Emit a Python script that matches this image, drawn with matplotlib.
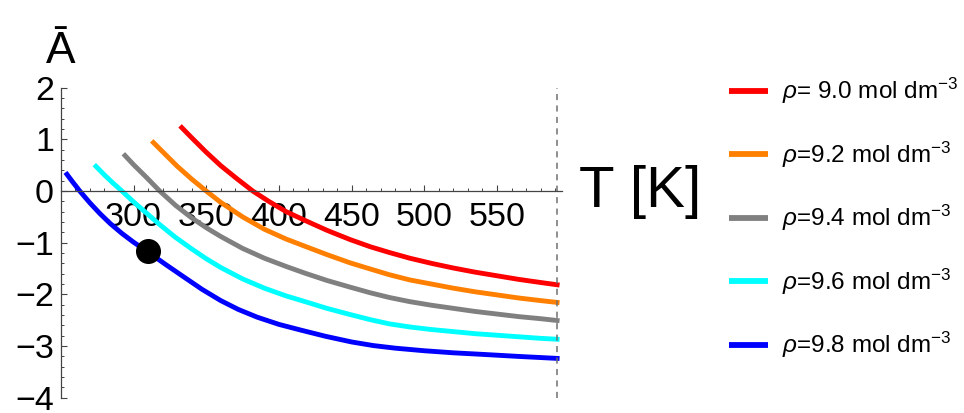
import matplotlib
matplotlib.use("Agg")
import matplotlib.pyplot as plt
from matplotlib.ticker import MultipleLocator, FixedLocator

plt.rcParams["font.family"] = ["Liberation Sans", "DejaVu Sans"]
plt.rcParams["mathtext.fontset"] = "custom"
plt.rcParams["mathtext.rm"] = "Liberation Sans"
plt.rcParams["mathtext.it"] = "Liberation Sans:italic"

# values (T in K, reduced A)
t_98 = [253.2, 258, 263, 270, 277, 284, 292, 300, 310, 322, 335, 347, 360, 372,
        385, 400, 415, 432, 450, 465, 480, 500, 520, 540, 565, 593]
a_98 = [0.36, 0.18, 0.0, -0.23, -0.44, -0.63, -0.82, -0.99, -1.18, -1.42, -1.67,
        -1.90, -2.12, -2.29, -2.44, -2.58, -2.69, -2.81, -2.92, -2.99, -3.04,
        -3.09, -3.13, -3.16, -3.20, -3.24]
t_96 = [273, 280, 286, 292, 300, 309, 318, 329, 340, 350, 360, 375, 390, 405,
        418, 433, 449, 463, 476, 490, 505, 520, 535, 550, 565, 580, 593]
a_96 = [0.51, 0.31, 0.15, 0.0, -0.21, -0.43, -0.65, -0.90, -1.12, -1.31, -1.48,
        -1.70, -1.88, -2.03, -2.14, -2.27, -2.39, -2.49, -2.57, -2.63, -2.68,
        -2.72, -2.76, -2.79, -2.82, -2.85, -2.87]
t_94 = [293, 300, 309, 318, 329, 340, 350, 360, 375, 390, 405, 418, 433, 449,
        463, 476, 490, 505, 520, 535, 550, 565, 580, 593]
a_94 = [0.72, 0.51, 0.26, 0.0, -0.28, -0.52, -0.71, -0.88, -1.11, -1.30, -1.46,
        -1.59, -1.73, -1.86, -1.97, -2.06, -2.14, -2.21, -2.27, -2.33, -2.38,
        -2.43, -2.47, -2.51]
t_92 = [312.5, 320, 330, 340, 350, 360, 375, 390, 405, 418, 433, 449, 463, 476,
        490, 505, 520, 535, 550, 565, 580, 593]
a_92 = [0.97, 0.76, 0.48, 0.23, 0.0, -0.22, -0.50, -0.74, -0.93, -1.07, -1.23,
        -1.39, -1.51, -1.62, -1.72, -1.80, -1.88, -1.95, -2.01, -2.07, -2.12, -2.16]
t_90 = [332, 340, 350, 360, 371, 382, 393, 405, 418, 433, 449, 463, 476, 490,
        505, 520, 535, 550, 565, 580, 593]
a_90 = [1.26, 1.03, 0.75, 0.49, 0.24, 0.0, -0.20, -0.40, -0.57, -0.76, -0.94,
        -1.08, -1.19, -1.30, -1.40, -1.49, -1.57, -1.64, -1.71, -1.77, -1.82]

labels = [r"$\rho$= 9.0 mol dm$^{-3}$", r"$\rho$=9.2 mol dm$^{-3}$",
          r"$\rho$=9.4 mol dm$^{-3}$", r"$\rho$=9.6 mol dm$^{-3}$",
          r"$\rho$=9.8 mol dm$^{-3}$"]
colors = ["#ff0000", "#ff8000", "#808080", "#00ffff", "#0000ff"]
series = [(t_90, a_90), (t_92, a_92), (t_94, a_94), (t_96, a_96), (t_98, a_98)]

point_t = [310]
point_a = [-1.16]
t_line = 591

fig = plt.figure(figsize=(9.64, 4.13), dpi=100)
ax = fig.add_axes([0.0631, 0.0368, 0.5196, 0.7511])

for (t, a), c, lab in zip(series, colors, labels):
    ax.plot(t, a, color=c, lw=3.5, label=lab, clip_on=False,
            solid_capstyle="butt", solid_joinstyle="round")

ax.axvline(t_line, color="#707070", lw=1.1, ls=(0, (4, 3.5)))
ax.plot(point_t, point_a, "o", color="black", ms=17, zorder=5)

ax.set_xlim(250, 594.5)
ax.set_ylim(-4, 2)

for s in ["top", "right"]:
    ax.spines[s].set_visible(False)
ax.spines["bottom"].set_position(("data", 0))
for s in ["left", "bottom"]:
    ax.spines[s].set_color("#444444")
    ax.spines[s].set_linewidth(0.9)

ax.xaxis.set_major_locator(FixedLocator([300, 350, 400, 450, 500, 550]))
ax.xaxis.set_minor_locator(MultipleLocator(10))
ax.yaxis.set_major_locator(MultipleLocator(1))
ax.yaxis.set_minor_locator(MultipleLocator(0.2))

ax.tick_params(axis="x", which="major", direction="in", length=4.2, width=0.8,
               color="#444444", labelsize=24.5, pad=8)
ax.tick_params(axis="x", which="minor", direction="in", length=2.5, width=0.7,
               color="#444444")
ax.tick_params(axis="y", which="major", direction="in", length=4.0, width=0.8,
               color="#444444", labelsize=24.5, pad=5)
ax.tick_params(axis="y", which="minor", direction="in", length=2.3, width=0.7,
               color="#444444")

fig.text(0.0628, 0.8475, "Ā", fontsize=32, ha="center", va="baseline")
fig.text(0.6003, 0.4995, "T [K]", fontsize=42, ha="left", va="baseline")

leg = ax.legend(loc="upper left", bbox_to_anchor=(0.7562, 0.8153),
                bbox_transform=fig.transFigure, frameon=False, fontsize=17.5,
                handlelength=1.6, handletextpad=0.58, labelspacing=1.37,
                borderpad=0, borderaxespad=0)
for h in leg.legend_handles:
    h.set_linewidth(4.2)

fig.savefig("out.png", dpi=100)
